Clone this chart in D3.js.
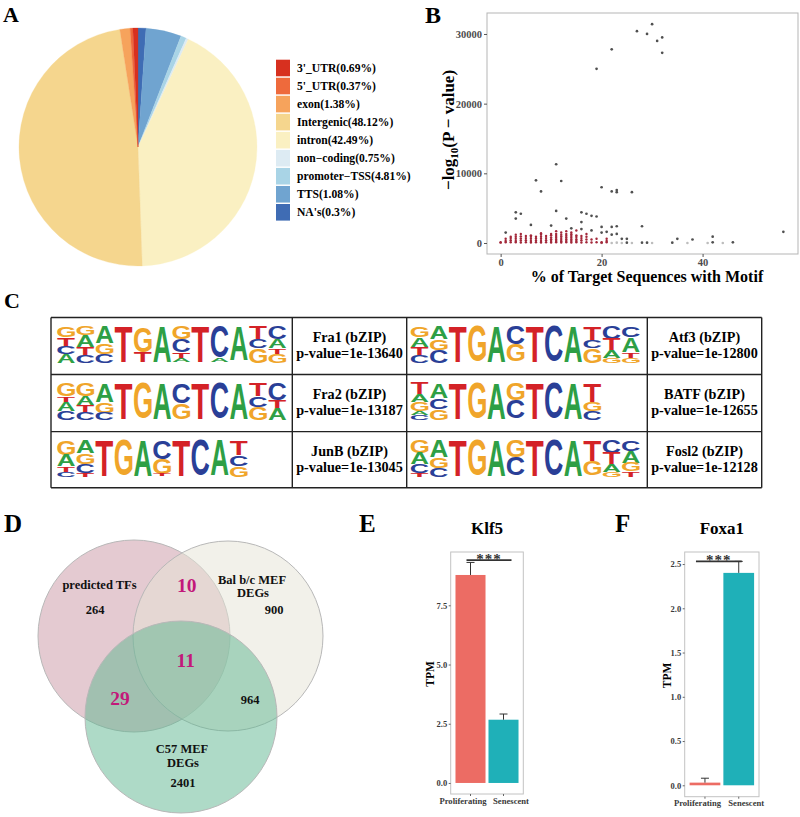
<!DOCTYPE html>
<html><head><meta charset="utf-8">
<script src="https://cdn.jsdelivr.net/npm/d3@7"></script>
<style>
body{margin:0;background:#fff}
svg{display:block}
text.s{font-family:"Liberation Serif","Times New Roman",serif;font-weight:bold}
text.logo{font-family:"Liberation Sans",Arial,sans-serif;font-weight:bold}
</style>
</head><body>
<svg id="fig" width="800" height="817"></svg>
<script>
// ---------------- DATA ----------------
// Panel A: genomic annotation (legend order)
const pieLabels = ["3'_UTR(0.69%)","5'_UTR(0.37%)","exon(1.38%)","Intergenic(48.12%)","intron(42.49%)","non\u2212coding(0.75%)","promoter\u2212TSS(4.81%)","TTS(1.08%)","NA's(0.3%)"];
const pieValues = [0.69, 0.37, 1.38, 48.12, 42.49, 0.30, 0.75, 4.81, 1.08]; // slice sizes as drawn
const pieColors = ["#D7301F","#EE6A3C","#F6A35C","#F5D68E","#FAF0C2","#DDEBF3","#A9D4E6","#70A4D0","#3F6CB4"];

// Panel B: motif enrichment scatter (x = % targets, y = -log10 p)
const bDarkX = [27,29,30,31,32,32,22,19,11,7,12,8,20,22,23,23,26,3,4,3,11,13,16,17,18,19,16,6,10,20,22,23,28,56,14,18,22,23,24,25,35,38,42,42,46,25,28,29,34,1,16,20,21];
const bDarkY = [30400,30000,31400,29000,29500,27300,27800,25000,11300,9000,8900,7400,8000,7400,7600,7300,7300,4400,4200,3500,4600,3500,4400,4200,3900,3800,3000,2600,2500,2300,2300,2400,2400,1600,2100,1800,1200,1300,600,600,600,500,900,100,100,50,50,50,50,1500,2000,1500,1600];
const bLightX = [20,22,23,24,26,30,37,41,44];
const bLightY = [0,0,50,0,0,0,0,0,0];
const bRedCols = [
  [0,[50,120]],
  [1,[100,300,600]],
  [2,[100,400,700,900]],
  [3,[100,300,600,900,1200]],
  [4,[80,350,650,950,1300]],
  [5,[100,400,700,1000]],
  [6,[80,300,600,900,1100]],
  [7,[100,350,650,900]],
  [8,[80,300,600,900,1200,1400]],
  [9,[100,400,700,1000]],
  [10,[80,300,550,800,1100,1300]],
  [11,[100,300,500,750,1000,1300,1700]],
  [12,[80,250,450,700,950,1200,1500]],
  [13,[100,300,550,800,1050,1300,1700]],
  [14,[80,300,500,750,1000,1250,1500]],
  [15,[100,300,550,850,1100,1800]],
  [16,[80,400,700,1000]],
  [17,[100,500,900,1300]],
  [18,[80,500]],
  [19,[100,600]],
  [20,[50,100]],
  [21,[100,300,600]]
];
const bXTicks = [0,20,40];
const bYTicks = [0,10000,20000,30000];

// Panel C: known motifs (position probability, letters top->bottom)
const motifNames = ["Fra1 (bZIP)","Atf3 (bZIP)","Fra2 (bZIP)","BATF (bZIP)","JunB (bZIP)","Fosl2 (bZIP)"];
const motifPvals = ["p-value=1e-13640","p-value=1e-12800","p-value=1e-13187","p-value=1e-12655","p-value=1e-13045","p-value=1e-12128"];
const motifFra1 = ["G30T25C20A25","G25A30T25C20","A45G30C25","T97","G70T28","A96","G35C35T18A10","T96","C85A12","A92","T35C25G40","C35A25T15G25"];
const motifAtf3 = ["G30A25T25C20","A35G30C35","T97","G96","A96","C50G46","T97","C96","A96","T40C20G40","C35T30A20G15","C30A40T15G15"];
const motifFra2 = ["G35T15A25C25","G35A25T20C20","A50G30C20","T97","G97","A97","C55G42","T97","C97","A97","T35C30G35","C45T25A30"];
const motifBATF = ["T30A20G25A10C15","A40C30G30","T97","G96","A96","G45C50","T97","C96","A96","T50G25C25"];
const motifJunB = ["G40A30T15C15","A35G30C25T10","T96","G96","A96","C50G42T6","T96","C96","A95","T40C30G30"];
const motifFosl2 = ["G35A30C25T10","A45G30C25","T96","G96","A96","G45C50","T97","C96","A96","T55G40","C35T30A20G15","C30A30G25T15"];

// Panel D: Venn counts
const vennSets = ["predicted TFs","Bal b/c MEF DEGs","C57 MEF DEGs"];
const vennOnly = [264, 900, 2401];
const vennPairs = {ab:10, ac:29, bc:964};
const vennAll = 11;

// Panels E, F: TPM
const groups = ["Proliferating","Senescent"];
const klf5Mean = [8.78, 2.67], klf5Err = [0.53, 0.24];
const foxa1Mean = [0.03, 2.40], foxa1Err = [0.05, 0.13];
const klf5Ticks = [0.0, 2.5, 5.0, 7.5];
const foxa1Ticks = [0.0, 0.5, 1.0, 1.5, 2.0, 2.5];

// ---------------- DRAW ----------------
const svg = d3.select("#fig");
function panelLetter(t, x, y, fs){ svg.append("text").attr("class","s").attr("x",x).attr("y",y).attr("font-size",fs||24).text(t); }
function serifAxis(a, fs, col){
  a.select(".domain").remove();
  a.selectAll("text").attr("class","s").attr("font-size",fs).attr("fill",col);
}

// ===== Panel A =====
panelLetter("A", 3, 22, 22);
{
  const cx = 138, cy = 147, r = 119;
  const order = d3.range(pieValues.length).reverse(); // NA's first, clockwise from top
  const pie = d3.pie().sort(null).value(i => pieValues[i]);
  const arc = d3.arc().innerRadius(0).outerRadius(r);
  const g = svg.append("g").attr("transform",`translate(${cx},${cy})`);
  g.selectAll("path").data(pie(order)).join("path")
    .attr("d", arc).attr("fill", d => pieColors[d.data]).attr("stroke", d => pieColors[d.data]).attr("stroke-width",0.3);
  const lg = svg.append("g");
  const ly = d3.scalePoint().domain(d3.range(pieLabels.length)).range([68, 212.3]);
  pieLabels.forEach((lab,i) => {
    lg.append("rect").attr("x",276).attr("y",ly(i)-8.3).attr("width",14).attr("height",16.6).attr("fill",pieColors[i]);
    lg.append("text").attr("class","s").attr("x",297).attr("y",ly(i)+4).attr("font-size",11.6).text(lab);
  });
}

// ===== Panel B =====
panelLetter("B", 425, 23, 24);
{
  const x = d3.scaleLinear().domain([-2.7, 58.9]).range([487, 798]);
  const y = d3.scaleLinear().domain([-1580, 33010]).range([254, 13]);
  svg.append("rect").attr("x",487).attr("y",13).attr("width",311).attr("height",241).attr("fill","none").attr("stroke","#b5b5b5").attr("stroke-width",1);
  const ya = svg.append("g").attr("transform","translate(487,0)").call(d3.axisLeft(y).tickValues(bYTicks).tickFormat(d3.format("d")).tickSize(3).tickPadding(2));
  const xa = svg.append("g").attr("transform","translate(0,254)").call(d3.axisBottom(x).tickValues(bXTicks).tickSize(3).tickPadding(2));
  [ya,xa].forEach(a => { serifAxis(a, 10.5, "#4d4d4d"); a.selectAll("line").attr("stroke","#555"); });
  const pts = svg.append("g");
  const redPts = [];
  bRedCols.forEach(([cx, ys]) => ys.forEach(v => redPts.push([cx, v])));
  pts.selectAll(".l").data(bLightX.map((v,i)=>[v,bLightY[i]])).join("circle")
    .attr("cx",d=>x(d[0])).attr("cy",d=>y(d[1])).attr("r",1.3).attr("fill","#bdbdbd");
  pts.selectAll(".r").data(redPts).join("circle")
    .attr("cx",d=>x(d[0])).attr("cy",d=>y(d[1])).attr("r",1.2).attr("fill","#A3283A");
  pts.selectAll(".d").data(bDarkX.map((v,i)=>[v,bDarkY[i]])).join("circle")
    .attr("cx",d=>x(d[0])).attr("cy",d=>y(d[1])).attr("r",1.35).attr("fill","#505050");
  const yl = svg.append("text").attr("class","s").attr("transform","translate(454,130) rotate(-90)").attr("text-anchor","middle").attr("font-size",17);
  yl.append("tspan").text("\u2212log");
  yl.append("tspan").attr("font-size",11).attr("dy",4).text("10");
  yl.append("tspan").attr("dy",-4).text("(P \u2212 value)");
  svg.append("text").attr("class","s").attr("x",647).attr("y",282).attr("text-anchor","middle").attr("font-size",16).text("% of Target Sequences with Motif");
}

// ===== Panel C =====
panelLetter("C", 4, 308, 22);
{
  const colX = [51, 292.3, 406.7, 647.3, 761.7];
  const rowY = [317.5, 374.5, 431.6, 487.7];
  const tg = svg.append("g");
  colX.forEach(cx => tg.append("line").attr("x1",cx).attr("x2",cx).attr("y1",rowY[0]).attr("y2",rowY[3]).attr("stroke","#222").attr("stroke-width",1.4));
  rowY.forEach(ry => tg.append("line").attr("x1",colX[0]).attr("x2",colX[4]).attr("y1",ry).attr("y2",ry).attr("stroke","#222").attr("stroke-width",1.4));

  const logoColors = {A:"#2E9F45", C:"#2A3F97", G:"#F0A52A", T:"#D42227"};
  const ctx = document.createElement("canvas").getContext("2d");
  ctx.font = "bold 100px 'Liberation Sans'";
  const met = {};
  "ACGT".split("").forEach(l => { const m = ctx.measureText(l);
    met[l] = {L:m.actualBoundingBoxLeft, R:m.actualBoundingBoxRight, A:m.actualBoundingBoxAscent, D:m.actualBoundingBoxDescent}; });
  function parseCol(s){ const out=[]; const re=/([ACGT])(\d+)/g; let m; while((m=re.exec(s))) out.push([m[1], +m[2]/100]); return out; }
  function drawLogo(motif, x0, y0, colW, H){
    const g = svg.append("g");
    motif.forEach((cs, j) => {
      const col = parseCol(cs);
      let yy = y0;
      const xs = d3.scaleLinear().domain([0,1]).range([x0 + j*colW, x0 + (j+1)*colW]);
      col.forEach(([l,p]) => {
        const h = p*H; const m = met[l];
        if (h < 0.5) { yy += h; return; }
        const w = xs(0.96) - xs(0.04);
        const sx = w/(m.L+m.R), sy = h/(m.A+m.D);
        g.append("text").attr("class","logo").text(l)
          .attr("font-size",100).attr("fill",logoColors[l])
          .attr("transform",`translate(${xs(0.04)},${yy}) scale(${sx},${sy}) translate(${m.L},${m.A})`);
        yy += h;
      });
    });
  }
  const motifs = [motifFra1, motifAtf3, motifFra2, motifBATF, motifJunB, motifFosl2];
  motifs.forEach((mo, k) => {
    const row = Math.floor(k/2), side = k%2;
    const lx = side === 0 ? 56.5 : 410;
    drawLogo(mo, lx, rowY[row] + 9, 19.2, 36.5);
    const tx = side === 0 ? (colX[1]+colX[2])/2 : (colX[3]+colX[4])/2;
    svg.append("text").attr("class","s").attr("x",tx).attr("y",rowY[row]+24).attr("text-anchor","middle").attr("font-size",14.2).text(motifNames[k]);
    svg.append("text").attr("class","s").attr("x",tx).attr("y",rowY[row]+40.5).attr("text-anchor","middle").attr("font-size",14.2).text(motifPvals[k]);
  });
}

// ===== Panel D =====
panelLetter("D", 4, 532, 25);
{
  const g = svg.append("g");
  const circles = [
    {cx:134, cy:636, r:96, fill:"#C48A99", op:0.45},
    {cx:228, cy:636, r:95, fill:"#E6E4D6", op:0.5},
    {cx:181, cy:717, r:96, fill:"#5DB690", op:0.5}
  ];
  g.selectAll("circle").data(circles).join("circle")
    .attr("cx",d=>d.cx).attr("cy",d=>d.cy).attr("r",d=>d.r)
    .attr("fill",d=>d.fill).attr("fill-opacity",d=>d.op).attr("stroke","#b8b8b8").attr("stroke-width",1);
  const t = (x,y,s,fs,col) => g.append("text").attr("class","s").attr("x",x).attr("y",y).attr("text-anchor","middle").attr("font-size",fs).attr("fill",col||"#111").text(s);
  t(99.5, 589, vennSets[0], 12.5);
  t(95, 614, vennOnly[0], 12.5);
  t(252, 584, "Bal b/c MEF", 12.5);
  t(253, 597, "DEGs", 12.5);
  t(274, 614, vennOnly[1], 12.5);
  t(182, 753, "C57 MEF", 12.5);
  t(183, 767, "DEGs", 12.5);
  t(183, 787, vennOnly[2], 12.5);
  t(250, 704, vennPairs.bc, 12.5);
  t(186.7, 592, vennPairs.ab, 19.5, "#C2187A");
  t(185.7, 667, vennAll, 19.5, "#C2187A");
  t(120, 705, vennPairs.ac, 19.5, "#C2187A");
}

// ===== Panels E, F =====
function barPanel(o){
  const x = d3.scaleBand().domain(groups).range([o.x0, o.x1]).paddingInner(0.09).paddingOuter(0.145);
  const y = d3.scaleLinear().domain(o.dom).range([o.y1, o.y0]);
  const cols = ["#EC6C64","#1FB0B8"];
  svg.append("rect").attr("x",o.x0).attr("y",o.y0).attr("width",o.x1-o.x0).attr("height",o.y1-o.y0).attr("fill","none").attr("stroke","#c2c2c2").attr("stroke-width",1);
  const g = svg.append("g");
  groups.forEach((gr,i) => {
    g.append("rect").attr("x",x(gr)).attr("width",x.bandwidth()).attr("y",y(o.mean[i])).attr("height",y(0)-y(o.mean[i])).attr("fill",cols[i]);
    const cx = x(gr) + x.bandwidth()/2;
    g.append("line").attr("x1",cx).attr("x2",cx).attr("y1",y(o.mean[i])).attr("y2",y(o.mean[i]+o.err[i])).attr("stroke","#333").attr("stroke-width",1);
    g.append("line").attr("x1",cx-4).attr("x2",cx+4).attr("y1",y(o.mean[i]+o.err[i])).attr("y2",y(o.mean[i]+o.err[i])).attr("stroke","#333").attr("stroke-width",1);
  });
  const ya = svg.append("g").attr("transform",`translate(${o.x0},0)`).call(d3.axisLeft(y).tickValues(o.ticks).tickFormat(d3.format(".1f")).tickSize(2).tickPadding(1.5));
  const xa = svg.append("g").attr("transform",`translate(0,${o.y1})`).call(d3.axisBottom(x).tickSize(2).tickPadding(1.5));
  serifAxis(ya, 8.5, "#3a3a3a"); serifAxis(xa, 8.6, "#3a3a3a");
  [ya,xa].forEach(a => a.selectAll("line").attr("stroke","#666"));
  xa.selectAll("text").attr("dx", (d,i) => i === 0 ? -7.5 : 7.5);
  const c0 = x(groups[0]) + x.bandwidth()/2, c1 = x(groups[1]) + x.bandwidth()/2;
  svg.append("line").attr("x1",c0+o.s0).attr("x2",c1+o.s1).attr("y1",y(o.sig)).attr("y2",y(o.sig)).attr("stroke","#333").attr("stroke-width",1.8);
  svg.append("text").attr("class","s").attr("x",(c0+o.s0+c1+o.s1)/2).attr("y",y(o.sig)+3.5).attr("text-anchor","middle").attr("font-size",15).attr("letter-spacing",1).attr("fill","#333").text("***");
  svg.append("text").attr("class","s").attr("x",(o.x0+o.x1)/2).attr("y",534).attr("text-anchor","middle").attr("font-size",17).text(o.title);
  svg.append("text").attr("class","s").attr("transform",`translate(${o.tpmX},${(o.y0+o.y1)/2+1}) rotate(-90)`).attr("text-anchor","middle").attr("font-size",11.5).text("TPM");
}
panelLetter("E", 359, 532, 25);
barPanel({title:"Klf5", x0:450.7, x1:523.3, y0:552, y1:794, dom:[-0.466, 9.75], mean:klf5Mean, err:klf5Err, ticks:klf5Ticks, sig:9.41, s0:-4, s1:8, tpmX:434});
panelLetter("F", 615, 532, 25);
barPanel({title:"Foxa1", x0:684.7, x1:759, y0:552, y1:796.7, dom:[-0.129, 2.636], mean:foxa1Mean, err:foxa1Err, ticks:foxa1Ticks, sig:2.53, s0:-9, s1:3, tpmX:671});
</script>
</body></html>
